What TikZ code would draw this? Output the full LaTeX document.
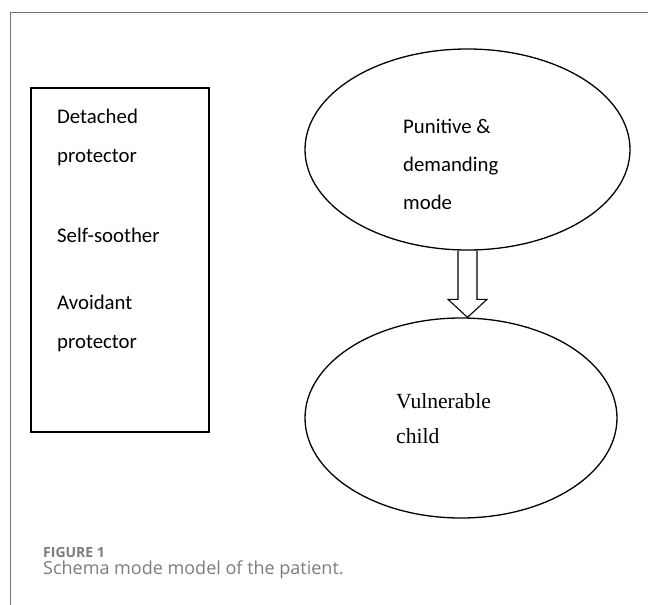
\documentclass[tikz,border=0pt]{standalone}
\usepackage{fontspec}
\setmainfont{Carlito}
\newfontfamily\timesfont{Liberation Serif}
\newfontfamily\capfont{Open Sans}
\usetikzlibrary{shapes.geometric,calc}
\definecolor{framegray}{HTML}{707070}
\definecolor{capgray}{HTML}{7C7C7C}

\begin{document}
\begin{tikzpicture}[x=1pt,y=-1pt,
    modebox/.style={draw, line width=1.3pt, minimum width=178pt, minimum height=344pt, inner sep=0pt},
    modeoval/.style={draw, ellipse, line width=1.3pt, inner sep=0pt},
    sanstext/.style={anchor=base west, inner sep=0pt, font=\fontsize{20.8}{25}\selectfont},
    seriftext/.style={anchor=base west, inner sep=0pt, font=\timesfont\fontsize{21.6}{26}\selectfont}]
    \useasboundingbox (0,0) rectangle (648,605);

    % 外框
    \draw[framegray, line width=1pt] (10,605) -- (10,12) -- (648,12);

    % 方框
    \node[modebox] (copers) at (120,260) {};
    \node[sanstext] (detached) at (57,123) {Detached};
    \node[sanstext] (detprot) at (57,162) {protector};
    \node[sanstext] (soother) at (57,242) {Self-soother};
    \node[sanstext] (avoidant) at (57,309) {Avoidant};
    \node[sanstext] (avprot) at (57,348) {protector};

    % 椭圆
    \node[modeoval, minimum width=325pt, minimum height=201pt] (punitive) at (467.5,149.5) {};
    \node[modeoval, minimum width=312pt, minimum height=200pt] (vulnerable) at (461,418) {};

    \node[sanstext] (pun1) at (403,133) {Punitive \&};
    \node[sanstext] (pun2) at (403,171) {demanding};
    \node[sanstext] (pun3) at (403,209) {mode};
    \node[seriftext] (vul1) at (396,408) {Vulnerable};
    \node[seriftext] (vul2) at (396,443) {child};

    % 箭头
    \coordinate (tip) at (punitive.south |- vulnerable.north);
    \draw[line width=1.1pt, line join=miter]
        ($(punitive.south)+(-9.5,0)$) -- ($(tip)+(-9.5,-18)$) -- ($(tip)+(-19.5,-18)$)
        -- (tip) -- ($(tip)+(19.5,-18)$) -- ($(tip)+(9.5,-18)$) -- ($(punitive.south)+(9.5,0)$);

    % 图题
    \node[anchor=base west, inner sep=0pt, text=capgray, font=\capfont\bfseries\fontsize{14}{16}\selectfont] (fignum) at (43,557) {FIGURE 1};
    \node[anchor=base west, inner sep=0pt, text=capgray, font=\capfont\fontsize{18}{21}\selectfont] (figcap) at (43,574) {Schema mode model of the patient.};
\end{tikzpicture}
\end{document}
